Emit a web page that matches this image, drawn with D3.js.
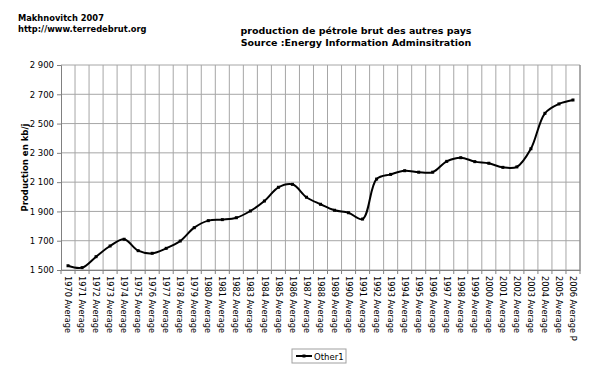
<!DOCTYPE html>
<html>
<head>
<meta charset="utf-8">
<script src="https://cdn.jsdelivr.net/npm/d3@7"></script>
<style>
  body { margin: 0; background: #fff; }
  svg { font-family: "DejaVu Sans", Verdana, sans-serif; }
</style>
</head>
<body>
<div id="chart"></div>
<script>
const years = d3.range(1970, 2007).map(String);
const labels = years.map(y => y === '2006' ? '2006 Average P' : y + ' Average');
const other1 = [1529, 1516, 1591, 1664, 1710, 1632, 1614, 1648, 1698, 1789,
  1837, 1844, 1857, 1903, 1971, 2065, 2085, 1997, 1949, 1908,
  1891, 1848, 2121, 2153, 2178, 2168, 2168, 2242, 2267, 2240,
  2229, 2201, 2204, 2328, 2570, 2634, 2661];
const yTicks = [1500, 1700, 1900, 2100, 2300, 2500, 2700, 2900];

const width = 599, height = 373;
const margin = { left: 61, right: 19, top: 65, bottom: 103 };

const svg = d3.select('#chart').append('svg')
  .attr('width', width).attr('height', height);

const x = d3.scaleBand().domain(labels).range([margin.left, width - margin.right]);
const y = d3.scaleLinear().domain([1500, 2900]).range([height - margin.bottom, margin.top]);

// horizontal gridlines
svg.append('g').selectAll('line').data(yTicks).enter().append('line')
  .attr('x1', margin.left).attr('x2', width - margin.right)
  .attr('y1', d => y(d)).attr('y2', d => y(d))
  .attr('stroke', '#a6a6a6').attr('stroke-width', 1);

// vertical gridlines at category boundaries
const bounds = labels.map(l => x(l)).concat([width - margin.right]);
svg.append('g').selectAll('line').data(bounds.slice(1)).enter().append('line')
  .attr('x1', d => d).attr('x2', d => d)
  .attr('y1', margin.top).attr('y2', height - margin.bottom)
  .attr('stroke', '#a6a6a6').attr('stroke-width', 1);

// y axis
const yAxis = d3.axisLeft(y).tickValues(yTicks).tickSize(4)
  .tickFormat(d => d3.format(',')(d).replace(',', ' '));
svg.append('g').attr('transform', `translate(${margin.left},0)`).call(yAxis)
  .call(g => g.select('.domain').attr('stroke', '#808080'))
  .call(g => g.selectAll('.tick line').attr('stroke', '#808080'))
  .call(g => g.selectAll('text').attr('font-size', 8.5).attr('fill', '#000')
    .attr('font-family', '"DejaVu Sans", Verdana, sans-serif'));

// x axis
const xAxis = d3.axisBottom(x).tickSize(0);
const gx = svg.append('g').attr('transform', `translate(0,${height - margin.bottom})`).call(xAxis);
gx.select('.domain').attr('stroke', '#808080');
gx.selectAll('text')
  .attr('font-size', 8.2).attr('fill', '#000')
  .attr('font-family', '"DejaVu Sans", Verdana, sans-serif')
  .attr('transform', 'rotate(90)')
  .attr('text-anchor', 'start')
  .attr('x', 6).attr('y', 0).attr('dy', '0.35em');
// tick marks between categories
svg.append('g').selectAll('line').data(bounds).enter().append('line')
  .attr('x1', d => d).attr('x2', d => d)
  .attr('y1', height - margin.bottom).attr('y2', height - margin.bottom + 4)
  .attr('stroke', '#808080');

// right border
svg.append('line')
  .attr('x1', width - margin.right).attr('x2', width - margin.right)
  .attr('y1', margin.top).attr('y2', height - margin.bottom)
  .attr('stroke', '#808080');

// series line
const line = d3.line()
  .x((d, i) => x(labels[i]) + x.bandwidth() / 2)
  .y(d => y(d))
  .curve(d3.curveCatmullRom.alpha(0.5));
svg.append('path').datum(other1)
  .attr('d', line).attr('fill', 'none')
  .attr('stroke', '#000').attr('stroke-width', 2);
svg.append('g').selectAll('rect').data(other1).enter().append('rect')
  .attr('x', (d, i) => x(labels[i]) + x.bandwidth() / 2 - 1.5)
  .attr('y', d => y(d) - 1.5)
  .attr('width', 3).attr('height', 3).attr('fill', '#000');

// titles
svg.append('text').attr('x', 18).attr('y', 21)
  .attr('font-size', 8.3).attr('font-weight', 'bold').text('Makhnovitch 2007');
svg.append('text').attr('x', 18).attr('y', 32)
  .attr('font-size', 8.3).attr('font-weight', 'bold').text('http://www.terredebrut.org');
svg.append('text').attr('x', 356).attr('y', 34).attr('text-anchor', 'middle')
  .attr('font-size', 9.5).attr('font-weight', 'bold').text('production de pétrole brut des autres pays');
svg.append('text').attr('x', 356).attr('y', 46).attr('text-anchor', 'middle')
  .attr('font-size', 9.5).attr('font-weight', 'bold').text('Source :Energy Information Adminsitration');

// y axis title
svg.append('text')
  .attr('transform', `translate(28,${(margin.top + height - margin.bottom) / 2}) rotate(-90)`)
  .attr('text-anchor', 'middle')
  .attr('font-size', 8.5).attr('font-weight', 'bold').text('Production en kb/j');

// legend
const lg = svg.append('g').attr('transform', 'translate(292,349)');
lg.append('rect').attr('width', 54).attr('height', 14)
  .attr('fill', '#fff').attr('stroke', '#a0a0a0');
lg.append('line').attr('x1', 4).attr('x2', 20).attr('y1', 7).attr('y2', 7)
  .attr('stroke', '#000').attr('stroke-width', 2);
lg.append('rect').attr('x', 10.5).attr('y', 5.5).attr('width', 3).attr('height', 3).attr('fill', '#000');
lg.append('text').attr('x', 22).attr('y', 10.5).attr('font-size', 8.5).text('Other1');
</script>
</body>
</html>
